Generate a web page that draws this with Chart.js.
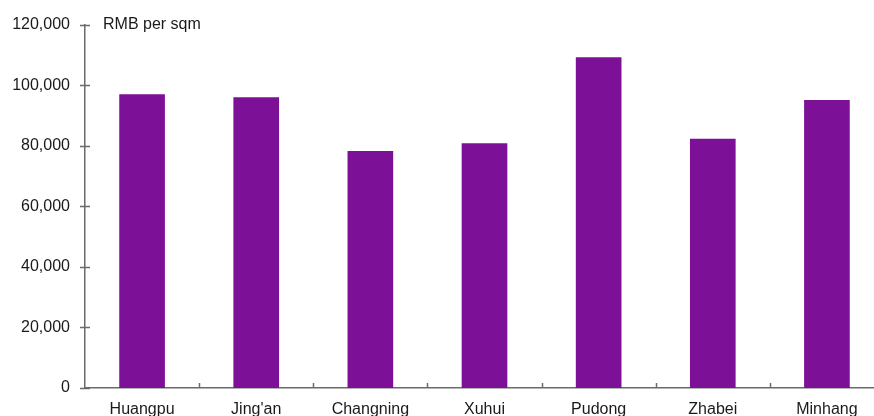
<!DOCTYPE html>
<html>
<head>
<meta charset="utf-8">
<script src="https://cdn.jsdelivr.net/npm/chart.js@4/dist/chart.umd.min.js"></script>
<style>
  html, body { margin: 0; padding: 0; background: #fff; overflow: hidden; width: 874px; height: 416px; }
  canvas { display: block; }
</style>
</head>
<body>
<canvas id="c" width="884" height="416"></canvas>
<script>
const categories = ["Huangpu", "Jing'an", "Changning", "Xuhui", "Pudong", "Zhabei", "Minhang"];
const prices = [97000, 96000, 78300, 80800, 109200, 82300, 95100];
const yTicks = [0, 20000, 40000, 60000, 80000, 100000, 120000];
const unitLabel = "RMB per sqm";

const AXIS_COLOR = '#6b6b6b';
const TEXT_COLOR = '#1a1a1a';
const FONT = '"Liberation Sans", Arial, Helvetica, sans-serif';

const axisPlugin = {
  id: 'axisMarks',
  afterDraw(chart) {
    const ctx = chart.ctx;
    const x = chart.scales.x, y = chart.scales.y;
    const area = chart.chartArea;
    ctx.save();
    ctx.strokeStyle = AXIS_COLOR;
    ctx.lineWidth = 1.5;
    // y ticks crossing the axis
    yTicks.forEach(v => {
      const py = Math.round(y.getPixelForValue(v)) + 0.5;
      ctx.beginPath();
      ctx.moveTo(area.left - 5, py);
      ctx.lineTo(area.left + 5, py);
      ctx.stroke();
    });
    // x ticks between categories, pointing up
    for (let i = 0; i < categories.length - 1; i++) {
      const px = Math.round((x.getPixelForValue(i) + x.getPixelForValue(i + 1)) / 2) + 0.5;
      ctx.beginPath();
      ctx.moveTo(px, area.bottom);
      ctx.lineTo(px, area.bottom - 5);
      ctx.stroke();
    }
    // unit label
    ctx.fillStyle = TEXT_COLOR;
    ctx.font = '16px ' + FONT;
    ctx.textAlign = 'left';
    ctx.textBaseline = 'middle';
    ctx.fillText(unitLabel, area.left + 18, y.getPixelForValue(120000));
    ctx.restore();
  }
};

new Chart(document.getElementById('c'), {
  type: 'bar',
  data: {
    labels: categories,
    datasets: [{
      data: prices,
      backgroundColor: '#7c1197',
      borderWidth: 0,
      categoryPercentage: 1.0,
      barPercentage: 0.4
    }]
  },
  options: {
    responsive: false,
    animation: false,
    devicePixelRatio: 1,
    layout: { padding: { top: 23, left: 0, right: 0, bottom: 0 } },
    plugins: { legend: { display: false }, tooltip: { enabled: false } },
    scales: {
      x: {
        offset: true,
        grid: { display: false, drawTicks: false },
        border: { display: true, color: AXIS_COLOR, width: 1.5 },
        ticks: {
          color: TEXT_COLOR,
          font: { family: FONT, size: 16 },
          padding: 12,
          maxRotation: 0,
          autoSkip: false
        },
        afterFit(scale) { scale.height = 28; }
      },
      y: {
        min: 0,
        max: 120000,
        afterBuildTicks(scale) { scale.ticks = yTicks.map(v => ({ value: v })); },
        grid: { display: false, drawTicks: false },
        border: { display: true, color: AXIS_COLOR, width: 1.5 },
        ticks: {
          color: TEXT_COLOR,
          font: { family: FONT, size: 16 },
          padding: 15,
          callback: v => v.toLocaleString('en-US')
        },
        afterFit(scale) { scale.width = 85; }
      }
    }
  },
  plugins: [axisPlugin]
});
</script>
</body>
</html>
